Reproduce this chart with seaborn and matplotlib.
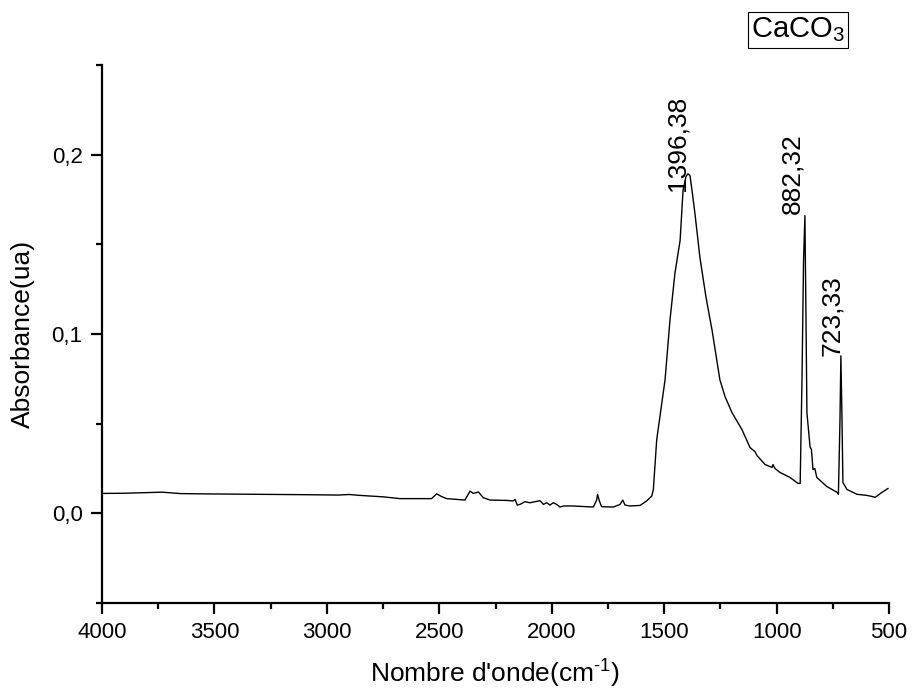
import numpy as np
import pandas as pd
import matplotlib
matplotlib.use("Agg")
import matplotlib.pyplot as plt
from matplotlib.ticker import MultipleLocator, FuncFormatter
import seaborn as sns

# ---- data ----
wavenumber = [4000, 3900, 3733, 3650, 3500, 3300, 3100, 2950, 2900, 2853, 2750, 2675,
              2534, 2512, 2489, 2467, 2386, 2363, 2349, 2326, 2304, 2274, 2200, 2171,
              2163, 2153, 2141, 2119, 2097, 2067, 2052, 2037, 2022, 2008, 1993, 1978,
              1963, 1948, 1904, 1815, 1800, 1796, 1788, 1778, 1726, 1696, 1684, 1674,
              1652, 1607, 1578, 1555, 1548, 1541, 1533, 1496, 1474, 1452, 1429, 1416,
              1403, 1394, 1385, 1376, 1363, 1341, 1314, 1287, 1252, 1229, 1198, 1154,
              1118, 1096, 1087, 1051, 1020, 1016, 1007, 985, 940, 905, 895, 887,
              880, 874, 870, 865, 851, 845, 838, 830, 821, 777, 731, 725,
              718, 714, 709, 705, 687, 642, 598, 576, 562, 531, 504]
absorbance = [0.0111, 0.0112, 0.0118, 0.0110, 0.0108, 0.0106, 0.0104, 0.0102, 0.0105, 0.0100, 0.0092, 0.0082,
              0.0082, 0.0109, 0.0093, 0.0082, 0.0074, 0.0124, 0.0111, 0.0119, 0.0087, 0.0074, 0.0072, 0.0069,
              0.0078, 0.0046, 0.0050, 0.0065, 0.0059, 0.0067, 0.0070, 0.0050, 0.0059, 0.0046, 0.0059, 0.0050,
              0.0035, 0.0041, 0.0041, 0.0035, 0.0074, 0.0106, 0.0069, 0.0037, 0.0035, 0.0050, 0.0074, 0.0046,
              0.0041, 0.0044, 0.0069, 0.0096, 0.0133, 0.0263, 0.0411, 0.0744, 0.1078, 0.1339, 0.1522, 0.1800,
              0.1878, 0.1894, 0.1883, 0.1800, 0.1672, 0.1428, 0.1206, 0.1022, 0.0744, 0.0650, 0.0561, 0.0467,
              0.0367, 0.0344, 0.0322, 0.0272, 0.0256, 0.0272, 0.0250, 0.0228, 0.0200, 0.0167, 0.0167, 0.0744,
              0.1410, 0.1660, 0.1190, 0.0560, 0.0370, 0.0356, 0.0244, 0.0250, 0.0200, 0.0150, 0.0117, 0.0106,
              0.0520, 0.0878, 0.0520, 0.0172, 0.0133, 0.0106, 0.0100, 0.0094, 0.0089, 0.0117, 0.0139]

peak_labels = ["1396,38", "882,32", "723,33"]
peak_label_x = [1440, 928, 754]
peak_label_y = [0.180, 0.167, 0.0878]

x_ticks = [4000, 3500, 3000, 2500, 2000, 1500, 1000, 500]
y_ticks = [0.0, 0.1, 0.2]
sample_name = "CaCO$_3$"
x_title = "Nombre d'onde(cm$^{\\text{-}1}$)"
y_title = "Absorbance(ua)"

# ---- style ----
sns.set_theme(style="ticks")
plt.rcParams["font.family"] = ["Liberation Sans", "DejaVu Sans"]
plt.rcParams["mathtext.fontset"] = "custom"
plt.rcParams["mathtext.rm"] = "Liberation Sans"
plt.rcParams["mathtext.it"] = "Liberation Sans"
plt.rcParams["mathtext.default"] = "regular"
plt.rcParams["text.color"] = "black"
plt.rcParams["axes.labelcolor"] = "black"

df = pd.DataFrame({"w": wavenumber, "a": absorbance})

fig = plt.figure(figsize=(9.13, 6.92), dpi=100)
ax = fig.add_axes([102 / 913, 1 - 603 / 692, (889 - 102) / 913, (603 - 65) / 692])

sns.lineplot(data=df, x="w", y="a", ax=ax, color="black", linewidth=1.0,
             estimator=None, sort=False)

ax.set_xlim(4000, 500)
ax.set_ylim(-0.05, 0.25)
ax.set_xticks(x_ticks)
ax.xaxis.set_minor_locator(MultipleLocator(250))
ax.set_yticks(y_ticks)
ax.yaxis.set_minor_locator(MultipleLocator(0.05))
ax.yaxis.set_major_formatter(FuncFormatter(lambda v, p: f"{v:.1f}".replace(".", ",")))

for side in ["top", "right"]:
    ax.spines[side].set_visible(False)
for side in ["left", "bottom"]:
    ax.spines[side].set_linewidth(1.6)
    ax.spines[side].set_color("black")

ax.tick_params(axis="both", which="major", direction="out", length=8, width=1.6,
               labelsize=16, pad=6, colors="black")
ax.tick_params(axis="both", which="minor", direction="out", length=4, width=1.6, colors="black")

ax.set_xlabel(x_title, fontsize=19, labelpad=10)
ax.set_ylabel(y_title, fontsize=19, labelpad=12)

for s, xv, yv in zip(peak_labels, peak_label_x, peak_label_y):
    ax.text(xv, yv, s, rotation=90, ha="center", va="bottom", fontsize=19, color="black")

fig.text(798 / 913, 1 - 30 / 692, sample_name, ha="center", va="center", fontsize=21,
         bbox=dict(boxstyle="square,pad=0.12", facecolor="white", edgecolor="black", linewidth=0.8))

ax.set_facecolor("white")
fig.patch.set_facecolor("white")
fig.savefig("out.png", dpi=100, facecolor="white")
